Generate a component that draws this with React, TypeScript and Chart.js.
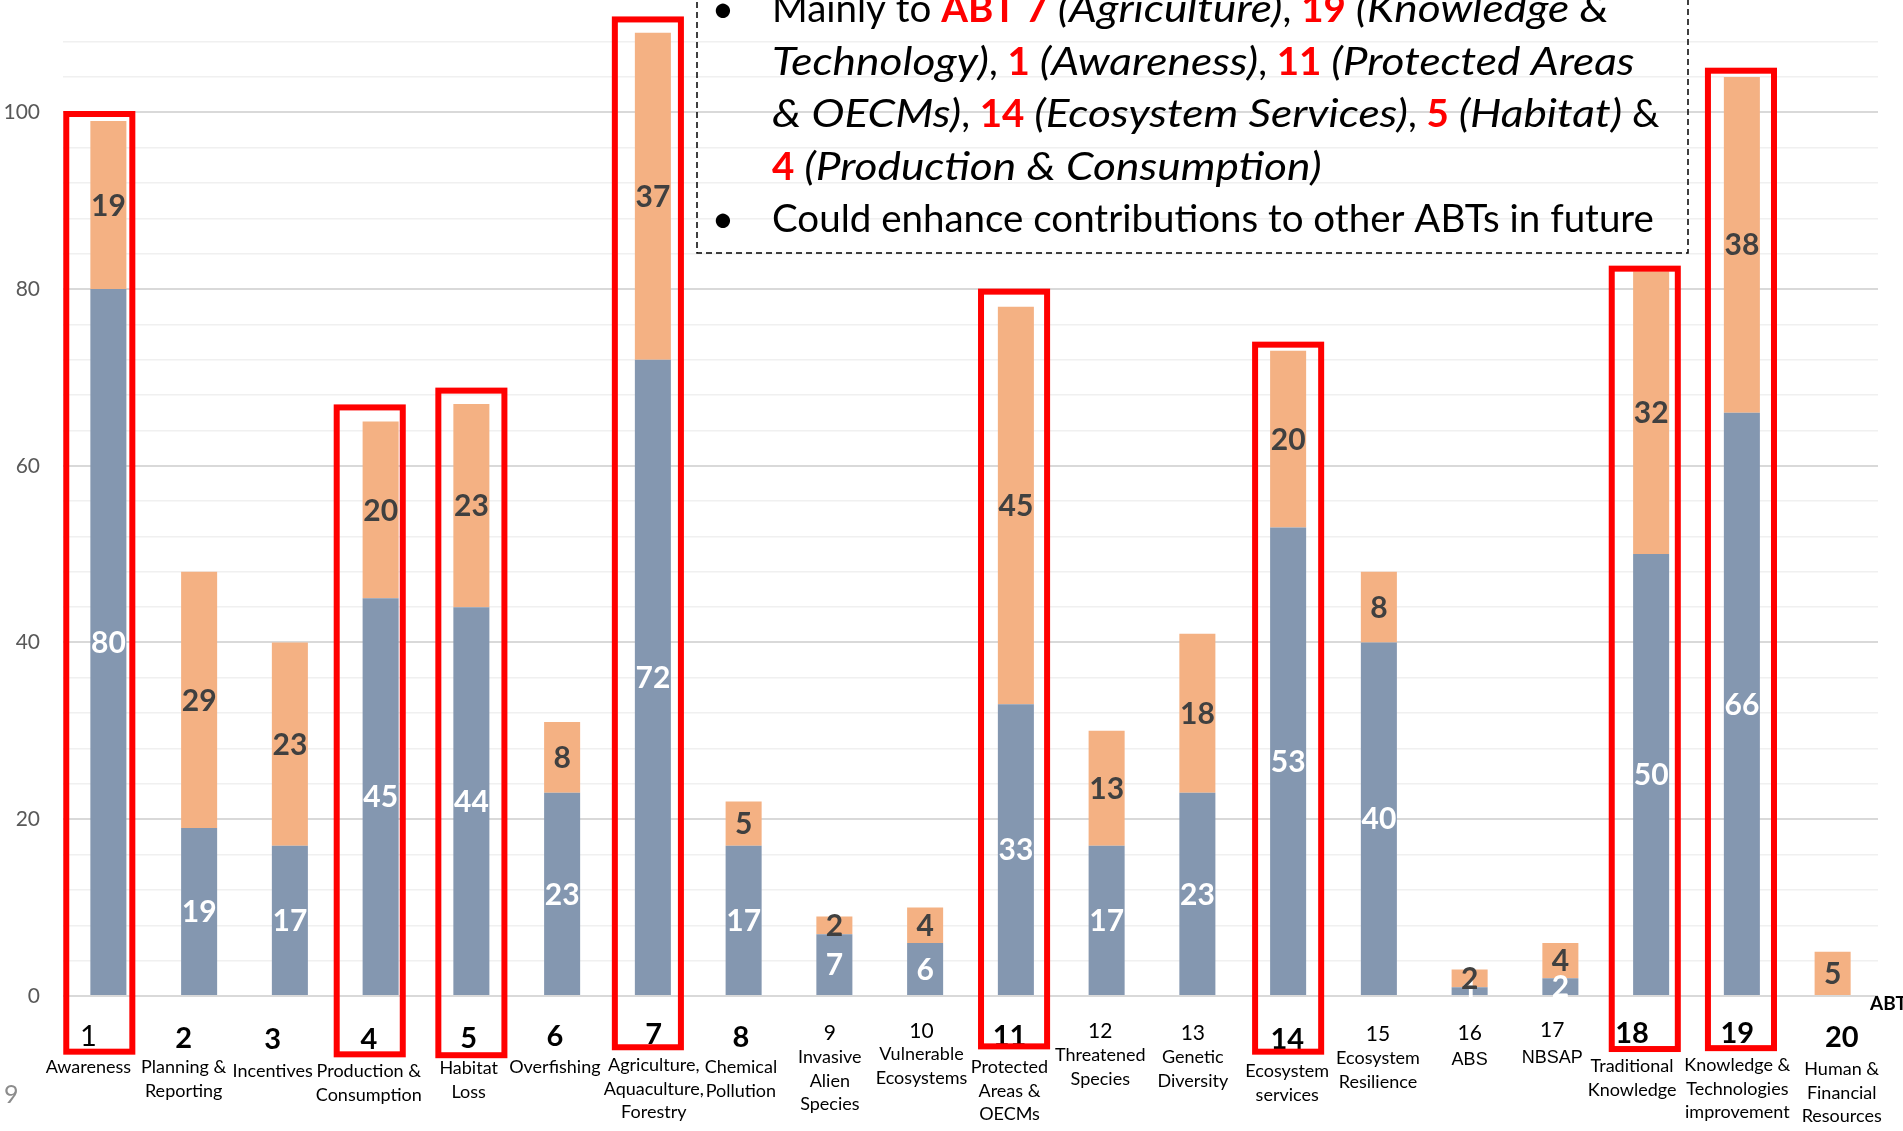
import React, { useEffect, useRef } from 'react';
import { Chart, registerables } from 'chart.js';

Chart.register(...registerables);

// ---------- data ----------
const categories = ['1', '2', '3', '4', '5', '6', '7', '8', '9', '10', '11', '12', '13', '14', '15', '16', '17', '18', '19', '20'];
const categoryNames = [
  ['Awareness'],
  ['Planning &', 'Reporting'],
  ['Incentives'],
  ['Production &', 'Consumption'],
  ['Habitat', 'Loss'],
  ['Overfishing'],
  ['Agriculture,', 'Aquaculture,', 'Forestry'],
  ['Chemical', 'Pollution'],
  ['Invasive', 'Alien', 'Species'],
  ['Vulnerable', 'Ecosystems'],
  ['Protected', 'Areas &', 'OECMs'],
  ['Threatened', 'Species'],
  ['Genetic', 'Diversity'],
  ['Ecosystem', 'services'],
  ['Ecosystem', 'Resilience'],
  ['ABS'],
  ['NBSAP'],
  ['Traditional', 'Knowledge'],
  ['Knowledge &', 'Technologies', 'improvement'],
  ['Human &', 'Financial', 'Resources'],
];
const blueValues = [80, 19, 17, 45, 44, 23, 72, 17, 7, 6, 33, 17, 23, 53, 40, 1, 2, 50, 66, 0];
const orangeValues = [19, 29, 23, 20, 23, 8, 37, 5, 2, 4, 45, 13, 18, 20, 8, 2, 4, 32, 38, 5];
const yTickLabels = [0, 20, 40, 60, 80, 100];
const highlightedCategories = [1, 4, 5, 7, 11, 14, 18, 19];
const highlightTopValues = [99.8, 66.6, 68.5, 110.5, 79.7, 73.7, 82.3, 104.7];
const highlightBottomValues = [-6.3, -6.6, -6.7, -5.8, -5.7, -6.3, -6.0, -5.9];
const axisUnitLabel = 'ABTs';
const pageNumber = '9';

// ---------- layout (not data) ----------
// number style: L = large regular, B = large bold, S = small regular
const numberStyle = ['L', 'B', 'B', 'B', 'B', 'B', 'B', 'B', 'S', 'S', 'B', 'S', 'S', 'B', 'S', 'S', 'S', 'B', 'B', 'B'];
const labelShift = [-0.22, -0.17, -0.19, -0.13, -0.03, -0.08, 0.01, -0.03, -0.05, -0.04, -0.07, -0.07, -0.05, -0.01, -0.01, 0, -0.09, -0.21, -0.05, 0.1];
const numberDrop = [50, 52, 53, 53, 52, 50, 48, 51, 44, 42, 50, 42, 44, 53, 45, 44, 41, 47, 47, 51];
const nameDrop = [77, 77, 81, 81, 78, 77, 75, 77, 67, 64, 77, 65, 67, 81, 68, 69, 67, 76, 75, 79];
const boxShift = [-0.1, -0.12, 0, -0.055, -0.02, 0, -0.07, -0.01];

type Seg = { t: string; s?: 'n' | 'i' | 'r' };
const noteLines: { bullet: boolean; segs: Seg[] }[] = [
  { bullet: true, segs: [{ t: 'Mainly to ' }, { t: 'ABT 7', s: 'r' }, { t: ' ' }, { t: '(Agriculture)', s: 'i' }, { t: ', ' }, { t: '19', s: 'r' }, { t: ' ' }, { t: '(Knowledge &', s: 'i' }] },
  { bullet: false, segs: [{ t: 'Technology)', s: 'i' }, { t: ', ' }, { t: '1', s: 'r' }, { t: ' ' }, { t: '(Awareness)', s: 'i' }, { t: ', ' }, { t: '11', s: 'r' }, { t: ' ' }, { t: '(Protected Areas', s: 'i' }] },
  { bullet: false, segs: [{ t: '& OECMs)', s: 'i' }, { t: ', ' }, { t: '14', s: 'r' }, { t: ' ' }, { t: '(Ecosystem Services)', s: 'i' }, { t: ', ' }, { t: '5', s: 'r' }, { t: ' ' }, { t: '(Habitat)', s: 'i' }, { t: ' &' }] },
  { bullet: false, segs: [{ t: '4', s: 'r' }, { t: ' ' }, { t: '(Production & Consumption)', s: 'i' }] },
  { bullet: true, segs: [{ t: 'Could enhance contributions to other ABTs in future' }] },
];

const BLUE = '#8497B0';
const ORANGE = '#F4B183';
const FONT = 'Lato, "Open Sans", sans-serif';

const overlayPlugin = {
  id: 'overlay',
  afterDatasetsDraw(chart: any) {
    const ctx = chart.ctx;
    ctx.save();
    ctx.textAlign = 'center';
    ctx.textBaseline = 'middle';
    ctx.font = `bold 30px ${FONT}`;
    chart.data.datasets.forEach((ds: any, di: number) => {
      const meta = chart.getDatasetMeta(di);
      meta.data.forEach((el: any, i: number) => {
        const v = ds.data[i];
        if (!v) return;
        const y = (el.y + el.base) / 2;
        ctx.fillStyle = di === 0 ? '#FFFFFF' : '#404040';
        ctx.fillText(String(v), el.x, y + 1);
      });
    });
    ctx.restore();
  },
  afterDraw(chart: any) {
    const ctx = chart.ctx;
    const xs = chart.scales.x;
    const ys = chart.scales.y;
    const cw = xs.getPixelForValue(1) - xs.getPixelForValue(0);
    const axisY = ys.getPixelForValue(0);

    // category labels
    ctx.save();
    ctx.textAlign = 'center';
    ctx.textBaseline = 'alphabetic';
    ctx.fillStyle = '#000000';
    categories.forEach((c, i) => {
      const x = xs.getPixelForValue(i) + labelShift[i] * cw;
      const st = numberStyle[i];
      ctx.font = st === 'B' ? `bold 29px ${FONT}` : st === 'L' ? `29px ${FONT}` : `21px ${FONT}`;
      ctx.fillText(c, x, axisY + numberDrop[i]);
      const isArial = c === '16' || c === '17';
      ctx.font = isArial ? `18px "Liberation Sans", Arial, sans-serif` : `18px ${FONT}`;
      categoryNames[i].forEach((ln, k) => {
        ctx.fillText(ln, x, axisY + nameDrop[i] + k * 23.5);
      });
    });
    ctx.restore();

    // red highlight boxes
    ctx.save();
    ctx.strokeStyle = '#FF0000';
    ctx.lineWidth = 6;
    ctx.lineJoin = 'miter';
    highlightedCategories.forEach((cat, k) => {
      const cx = xs.getPixelForValue(cat - 1) + boxShift[k] * cw;
      const half = 0.364 * cw;
      const top = ys.getPixelForValue(highlightTopValues[k]);
      const bottom = ys.getPixelForValue(highlightBottomValues[k]);
      ctx.strokeRect(cx - half, top, half * 2, bottom - top);
    });
    ctx.restore();

    // axis unit label and page number
    ctx.save();
    ctx.fillStyle = '#000000';
    ctx.font = `bold 19px ${FONT}`;
    ctx.textAlign = 'left';
    ctx.fillText(axisUnitLabel, chart.chartArea.right - 8, axisY + 14);
    ctx.fillStyle = '#8C8C8C';
    ctx.font = `25px ${FONT}`;
    ctx.fillText(pageNumber, 4, 1103);
    ctx.restore();

    // dashed note box
    ctx.save();
    ctx.strokeStyle = '#000000';
    ctx.lineWidth = 1.5;
    ctx.setLineDash([6, 4]);
    ctx.strokeRect(697, -20, 991, 273);
    ctx.setLineDash([]);
    const size = 38.5;
    const italicStretch = 1.15;
    const fontFor = (s?: string) =>
      s === 'i' ? `italic ${size}px ${FONT}` : s === 'r' ? `bold ${size}px ${FONT}` : `${size}px ${FONT}`;
    const baselines = [22, 74.5, 127, 179.5, 232];
    ctx.textBaseline = 'alphabetic';
    ctx.textAlign = 'left';
    noteLines.forEach((line, li) => {
      const by = baselines[li];
      if (line.bullet) {
        ctx.font = `${size}px ${FONT}`;
        ctx.fillStyle = '#000000';
        ctx.textAlign = 'center';
        ctx.fillText('\u2022', 723, by);
        ctx.textAlign = 'left';
      }
      let x = 772;
      line.segs.forEach((sg) => {
        ctx.font = fontFor(sg.s);
        ctx.fillStyle = sg.s === 'r' ? '#FF0000' : '#000000';
        const w = ctx.measureText(sg.t).width;
        if (sg.s === 'i') {
          ctx.save();
          ctx.translate(x, by);
          ctx.scale(italicStretch, 1);
          ctx.fillText(sg.t, 0, 0);
          ctx.restore();
          x += w * italicStretch;
        } else {
          ctx.fillText(sg.t, x, by);
          x += w;
        }
      });
    });
    ctx.restore();
  },
};

export default function App() {
  const ref = useRef<HTMLCanvasElement | null>(null);
  useEffect(() => {
    if (!ref.current) return;
    const chart = new Chart(ref.current, {
      type: 'bar',
      data: {
        labels: categories,
        datasets: [
          { label: 'Blue', data: blueValues, backgroundColor: BLUE, borderWidth: 0, categoryPercentage: 1, barPercentage: 0.397 },
          { label: 'Orange', data: orangeValues, backgroundColor: ORANGE, borderWidth: 0, categoryPercentage: 1, barPercentage: 0.397 },
        ],
      },
      options: {
        animation: false,
        responsive: false,
        devicePixelRatio: 1,
        layout: { padding: { left: 0, right: 25, top: 0, bottom: 135 } },
        plugins: { legend: { display: false }, tooltip: { enabled: false } },
        scales: {
          x: { stacked: true, display: false },
          y: {
            stacked: true,
            min: 0,
            max: 112.7,
            afterFit: (scale: any) => {
              scale.width = 63;
              scale.paddingTop = 0;
              scale.paddingBottom = 0;
            },
            border: { display: false },
            grid: {
              drawTicks: false,
              lineWidth: (c: any) => (c.tick && yTickLabels.includes(c.tick.value) ? 2 : 1.5),
              color: (c: any) => {
                const v = c.tick ? c.tick.value : -1;
                if (yTickLabels.includes(v)) return '#D9D9D9';
                if (Number.isInteger(v) && v % 4 === 0) return '#F0F0F0';
                return 'rgba(0,0,0,0)';
              },
            },
            ticks: {
              stepSize: 4,
              padding: 23,
              color: '#595959',
              font: { family: FONT, size: 21 },
              callback: (v: any) => (yTickLabels.includes(Number(v)) ? String(v) : ''),
            },
          },
        },
      },
      plugins: [overlayPlugin],
    });
    return () => chart.destroy();
  }, []);
  return (
    <div style={{ position: 'fixed', left: 0, top: 0, width: 1903, height: 1131, background: '#fff' }}>
      <canvas ref={ref} width={1903} height={1131} style={{ display: 'block' }} />
    </div>
  );
}
